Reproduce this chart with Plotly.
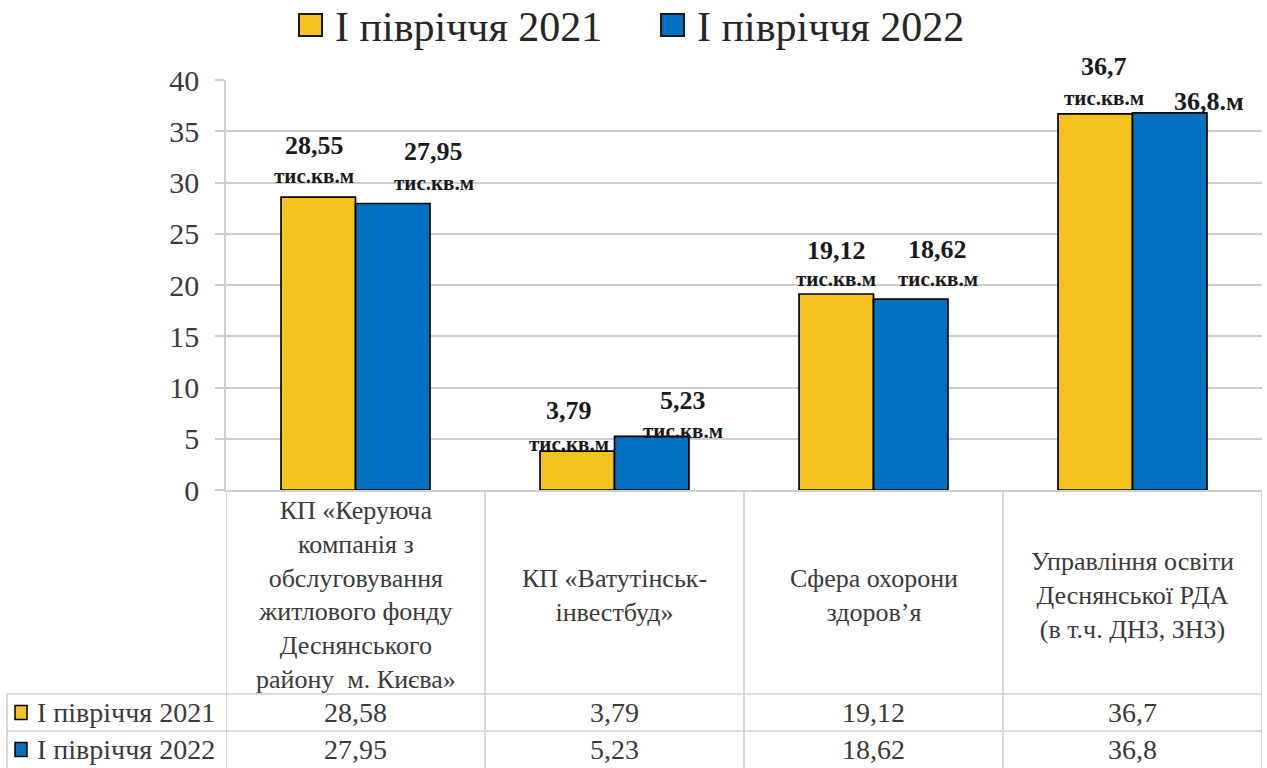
import plotly.graph_objects as go

# ---------------- data ----------------
categories = [
    ["КП «Керуюча", "компанія з", "обслуговування", "житлового фонду", "Деснянського", "району  м. Києва»"],
    ["КП «Ватутінськ-", "інвестбуд»"],
    ["Сфера охорони", "здоров’я"],
    ["Управління освіти", "Деснянської РДА", "(в т.ч. ДНЗ, ЗНЗ)"],
]
series_names = ["І півріччя 2021", "І півріччя 2022"]
values_2021 = [28.58, 3.79, 19.12, 36.7]
values_2022 = [27.95, 5.23, 18.62, 36.8]
labels_2021 = ["28,55", "3,79", "19,12", "36,7"]
labels_2022 = ["27,95", "5,23", "18,62", "36,8.м"]
units_2021 = ["тис.кв.м", "тис.кв.м", "тис.кв.м", "тис.кв.м"]
units_2022 = ["тис.кв.м", "тис.кв.м", "тис.кв.м", ""]
y_ticks = [0, 5, 10, 15, 20, 25, 30, 35, 40]

# ---------------- styles ----------------
W, H = 1267, 768
YELLOW = "#F6C21F"
BLUE = "#0070C0"
GRID = "#CFCFCF"
TEXT = "#3A3A3A"
SERIF = "Liberation Serif, Times New Roman, serif"
colors = [YELLOW, BLUE]
BARGAP = 0.425
half = (1 - BARGAP) / 4  # offset of each bar centre from category centre

# label offsets in pixels: (dx, number above top, unit above top)
offs_2021 = [(-4, 52, 21), (-8, 41, 7), (0, 44, 15), (9, 47, 16)]
offs_2022 = [(41, 52, 21), (31, 36, 5), (27, 50, 20), (39, 11, 0)]


def px(x):
    return x / W


def py(y):
    return 1 - y / H


x_idx = list(range(len(categories)))

fig = go.Figure()
for name, vals, col in zip(series_names, [values_2021, values_2022], colors):
    fig.add_trace(go.Bar(
        x=x_idx, y=vals, name=name,
        marker=dict(color=col, line=dict(color="#000000", width=1.7)),
        showlegend=False, hoverinfo="y",
    ))

annotations = []
shapes = []

# data labels
for vals, labs, units, offs, sign in [
    (values_2021, labels_2021, units_2021, offs_2021, -1),
    (values_2022, labels_2022, units_2022, offs_2022, 1),
]:
    for i, (v, lab, u, (dx, dn, du)) in enumerate(zip(vals, labs, units, offs)):
        xc = i + sign * half
        annotations.append(dict(
            x=xc, y=v, xref="x", yref="y", text=f"<b>{lab}</b>", showarrow=False,
            xshift=dx, yshift=dn, yanchor="middle", xanchor="center",
            font=dict(family=SERIF, size=26, color="#1a1a1a"),
        ))
        if u:
            annotations.append(dict(
                x=xc, y=v, xref="x", yref="y", text=f"<b>{u}</b>", showarrow=False,
                xshift=dx, yshift=du, yanchor="middle", xanchor="center",
                font=dict(family=SERIF, size=21, color="#1a1a1a"),
            ))

# category labels (table header row), vertically centred in the cell
HEAD_CENTER = 595
for i, lines in enumerate(categories):
    annotations.append(dict(
        x=i, y=py(HEAD_CENTER), xref="x", yref="paper", text="<br>".join(lines),
        showarrow=False, xanchor="center", yanchor="middle", align="center",
        font=dict(family=SERIF, size=26, color=TEXT),
    ))

# table rows
ROW_TOP = [694, 731]
ROW_BOT = [731, 768]
for r, (name, vals, col) in enumerate(zip(series_names, [values_2021, values_2022], colors)):
    yc = (ROW_TOP[r] + ROW_BOT[r]) / 2
    for i, v in enumerate(vals):
        annotations.append(dict(
            x=i, y=py(yc), xref="x", yref="paper",
            text=f"{v:g}".replace(".", ","), showarrow=False,
            xanchor="center", yanchor="middle",
            font=dict(family=SERIF, size=28, color=TEXT),
        ))
    annotations.append(dict(
        x=px(35), y=py(yc), xref="paper", yref="paper", text=name, showarrow=False,
        xanchor="left", yanchor="middle",
        font=dict(family=SERIF, size=28, color=TEXT),
    ))
    shapes.append(dict(
        type="rect", xref="paper", yref="paper",
        x0=px(15), x1=px(27), y0=py(yc - 7), y1=py(yc + 7),
        fillcolor=col, line=dict(color="#000000", width=1.5),
    ))

# table grid lines
LINE = dict(color=GRID, width=1.6)
for y in ROW_TOP:
    shapes.append(dict(type="line", xref="paper", yref="paper",
                       x0=px(7), x1=px(1262), y0=py(y), y1=py(y), line=LINE))
shapes.append(dict(type="line", xref="paper", yref="paper",
                   x0=px(7), x1=px(7), y0=py(694), y1=py(768), line=LINE))
for b in [-0.5, 0.5, 1.5, 2.5, 3.5]:
    shapes.append(dict(type="line", xref="x", yref="paper",
                       x0=b, x1=b, y0=py(490), y1=py(768), line=LINE))

# manual legend at top
LEG_Y = 25
leg_items = [(299, 333), (661, 695)]
for (sx, tx), name, col in zip(leg_items, series_names, colors):
    shapes.append(dict(
        type="rect", xref="paper", yref="paper",
        x0=px(sx), x1=px(sx + 23), y0=py(LEG_Y - 11), y1=py(LEG_Y + 11),
        fillcolor=col, line=dict(color="#1a1a1a", width=2),
    ))
    annotations.append(dict(
        x=px(tx), y=py(LEG_Y + 2), xref="paper", yref="paper", text=name,
        showarrow=False, xanchor="left", yanchor="middle",
        font=dict(family=SERIF, size=42, color="#262626"),
    ))

fig.update_layout(
    width=W, height=H,
    margin=dict(l=0, r=0, t=0, b=0, autoexpand=False),
    paper_bgcolor="white", plot_bgcolor="white",
    barmode="group", bargap=BARGAP, bargroupgap=0,
    showlegend=False,
    annotations=annotations, shapes=shapes,
    xaxis=dict(
        domain=[px(226), px(1262)], range=[-0.5, 3.5],
        showticklabels=False, showgrid=False, zeroline=False,
        showline=True, linecolor=GRID, linewidth=1.6, ticks="",
    ),
    yaxis=dict(
        domain=[py(490), py(80)], range=[0, 40], tickvals=y_ticks,
        showgrid=True, gridcolor=GRID, gridwidth=1.6,
        zeroline=False, showline=True, linecolor=GRID, linewidth=1.6,
        ticks="outside", ticklen=9, tickcolor=GRID, tickwidth=1.6,
        ticklabelstandoff=10,
        tickfont=dict(family=SERIF, size=30, color=TEXT),
    ),
)

fig.write_html(
    "out.html",
    config={"displayModeBar": False},
    post_script="document.body.style.margin='0';document.body.style.overflow='hidden';",
)
